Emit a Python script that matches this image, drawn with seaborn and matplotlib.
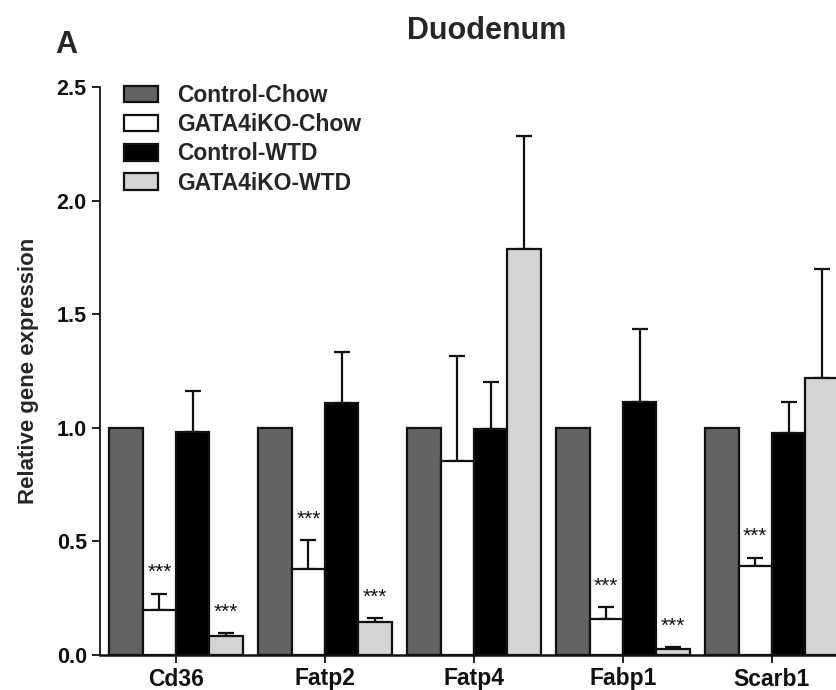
import numpy as np
import pandas as pd
import matplotlib
matplotlib.use("Agg")
import matplotlib.pyplot as plt
from matplotlib.container import BarContainer
import seaborn as sns

# ---- data ----
genes = ["Cd36", "Fatp2", "Fatp4", "Fabp1", "Scarb1"]
groups = ["Control-Chow", "GATA4iKO-Chow", "Control-WTD", "GATA4iKO-WTD"]
control_chow = [1.0, 1.0, 1.0, 1.0, 1.0]
gata4iko_chow = [0.20, 0.38, 0.855, 0.157, 0.392]
control_wtd = [0.98, 1.11, 0.995, 1.113, 0.977]
gata4iko_wtd = [0.084, 0.145, 1.787, 0.028, 1.22]
err_control_chow = [0.0, 0.0, 0.0, 0.0, 0.0]
err_gata4iko_chow = [0.07, 0.127, 0.461, 0.054, 0.036]
err_control_wtd = [0.18, 0.224, 0.208, 0.322, 0.136]
err_gata4iko_wtd = [0.013, 0.018, 0.499, 0.007, 0.479]
sig_gata4iko_chow = ["***", "***", "", "***", "***"]
sig_gata4iko_wtd = ["***", "***", "", "***", ""]
sig_control = ["", "", "", "", ""]
yticks = [0.0, 0.5, 1.0, 1.5, 2.0, 2.5]

means = [control_chow, gata4iko_chow, control_wtd, gata4iko_wtd]
errs = [err_control_chow, err_gata4iko_chow, err_control_wtd, err_gata4iko_wtd]
sigs = [sig_control, sig_gata4iko_chow, sig_control, sig_gata4iko_wtd]

df = pd.DataFrame({
    "gene": [g for _ in groups for g in genes],
    "group": [grp for grp in groups for _ in genes],
    "value": [v for m in means for v in m],
})

sns.set_style("ticks")
plt.rcParams["font.family"] = ["Liberation Sans", "DejaVu Sans"]
plt.rcParams["font.weight"] = "bold"

colors = ["#636363", "#ffffff", "#000000", "#d4d4d4"]

fig = plt.figure(figsize=(8.36, 6.90), dpi=100)
ax = fig.add_axes([100 / 836, 35 / 690, 736 / 836, 568 / 690])

sns.barplot(data=df, x="gene", y="value", hue="group", order=genes,
            hue_order=groups, palette=colors, errorbar=None, width=0.894,
            edgecolor="#111111", linewidth=1.6, legend=False, ax=ax, zorder=3)

bar_conts = [c for c in ax.containers if isinstance(c, BarContainer)]

for i, cont in enumerate(bar_conts):
    xs = [p.get_x() + p.get_width() / 2 for p in cont.patches]
    tops = [p.get_height() for p in cont.patches]
    e = errs[i]
    if any(v > 0 for v in e):
        ax.errorbar(xs, tops, yerr=[np.zeros(len(e)), e], fmt="none",
                    ecolor="#111111", elinewidth=1.6, capsize=6, capthick=1.6,
                    zorder=2)
    for x, t, ev, s in zip(xs, tops, e, sigs[i]):
        if s:
            ax.text(x, t + ev + 0.068, s, ha="center", va="baseline",
                    fontsize=15, fontweight="normal", color="#111111",
                    zorder=4)

ax.set_xlim(-0.51, 4.43)
ax.set_ylim(0, 2.5)
ax.set_yticks(yticks)
ax.set_yticklabels([f"{t:.1f}" for t in yticks])
ax.set_xlabel("")
ax.set_ylabel("Relative gene expression", fontsize=16, fontweight="bold",
              labelpad=13)
ax.tick_params(axis="both", labelsize=15.5, length=6, width=1.3, colors="#111111")
ax.tick_params(axis="x", pad=3, labelsize=16.5)
for lab in ax.get_xticklabels() + ax.get_yticklabels():
    lab.set_fontweight("bold")
sns.despine(ax=ax)
ax.spines["left"].set_linewidth(1.3)
ax.spines["bottom"].set_linewidth(1.8)
ax.spines["left"].set_color("#111111")
ax.spines["bottom"].set_color("#111111")

leg = fig.legend(bar_conts, groups, loc="upper left",
                 bbox_to_anchor=(124 / 836, 1 - 84 / 690),
                 frameon=False, handlelength=1.5,
                 handleheight=0.72, handletextpad=0.8, labelspacing=0.27,
                 borderpad=0, borderaxespad=0, prop={"weight": "bold", "size": 16.5})

fig.text(487 / 836, 1 - 31 / 690, "Duodenum", ha="center", va="center",
         fontsize=22, fontweight="bold")
fig.text(66 / 836, 1 - 45 / 690, "A", ha="center", va="center",
         fontsize=22, fontweight="bold")

fig.savefig("out.png", dpi=100)
